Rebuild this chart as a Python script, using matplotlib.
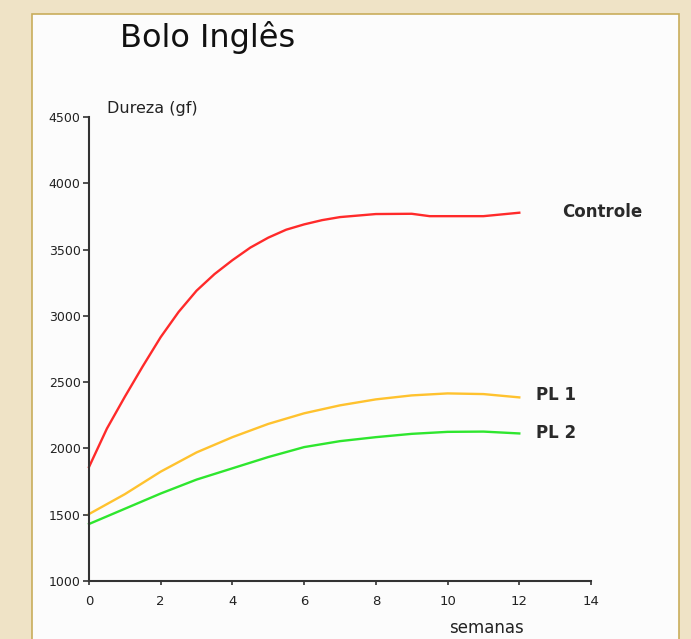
import matplotlib.pyplot as plt
from matplotlib.patches import Rectangle

# weeks / hardness (gf)
weeks_controle = [0, 0.5, 1, 1.5, 2, 2.5, 3, 3.5, 4, 4.5, 5, 5.5, 6, 6.5, 7, 8, 9, 9.5, 10, 11, 12]
controle = [1860, 2150, 2390, 2620, 2840, 3030, 3190, 3315, 3420, 3515, 3590, 3650, 3690, 3722,
            3745, 3768, 3770, 3752, 3752, 3752, 3778]

weeks = [0, 1, 2, 3, 4, 5, 6, 7, 8, 9, 10, 11, 12]
pl1 = [1505, 1655, 1825, 1970, 2085, 2185, 2265, 2325, 2370, 2400, 2415, 2410, 2385]
pl2 = [1430, 1545, 1660, 1765, 1850, 1935, 2010, 2055, 2085, 2110, 2125, 2127, 2113]

x_ticks = [0, 2, 4, 6, 8, 10, 12, 14]
y_ticks = [1000, 1500, 2000, 2500, 3000, 3500, 4000, 4500]

fig = plt.figure(figsize=(6.91, 6.39), dpi=100)
fig.patch.set_facecolor('#efe3c6')

# white panel with golden border
fig.patches.append(Rectangle((32 / 691, -0.02), (679 - 32) / 691, 1 - 14 / 639 + 0.02,
                             transform=fig.transFigure, facecolor='#fcfcfc',
                             edgecolor='#c9ad5c', linewidth=1.2, zorder=-10))

ax = fig.add_axes([89 / 691, 1 - 581 / 639, (591 - 89) / 691, (581 - 117) / 639])
ax.set_facecolor('none')

ax.plot(weeks_controle, controle, color='#ff2a2a', lw=1.7, clip_on=False)
ax.plot(weeks, pl1, color='#ffc22e', lw=1.7, clip_on=False)
ax.plot(weeks, pl2, color='#2ee62e', lw=1.7, clip_on=False)

ax.set_xlim(0, 14)
ax.set_ylim(1000, 4500)
ax.set_xticks(x_ticks)
ax.set_yticks(y_ticks)
ax.spines['top'].set_visible(False)
ax.spines['right'].set_visible(False)
for s in ['left', 'bottom']:
    ax.spines[s].set_color('#333333')
    ax.spines[s].set_linewidth(1.5)
ax.tick_params(axis='y', length=4, width=1.2, color='#333333', labelsize=9, pad=2,
               labelcolor='#222222')
ax.tick_params(axis='x', length=3, width=1.2, color='#333333', labelsize=9.5, pad=7,
               labelcolor='#222222')

lbl = dict(fontsize=12, color='#2a2a2a', va='center', ha='left', fontweight='bold')
ax.text(13.2, 3783, 'Controle', **lbl)
ax.text(12.47, 2403, 'PL 1', **lbl)
ax.text(12.47, 2116, 'PL 2', **lbl)

fig.text(107 / 691, 1 - 109 / 639, 'Dureza (gf)', fontsize=11.5, color='#222222', va='center')
fig.text(486 / 691, 1 - 628 / 639, 'semanas', fontsize=12, color='#222222', va='center', ha='center')
fig.text(120 / 691, 1 - 38 / 639, 'Bolo Inglês', fontsize=23, color='#111111', va='center')

fig.savefig('out.png', dpi=100, facecolor=fig.get_facecolor())
